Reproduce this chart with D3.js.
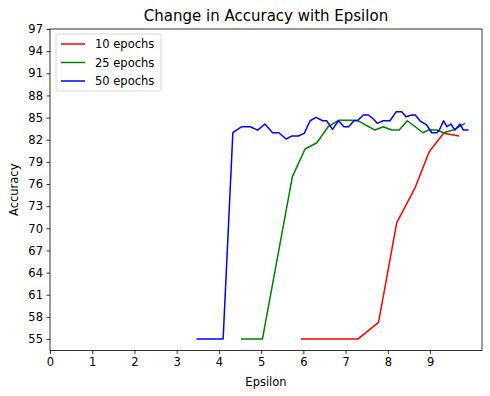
<!DOCTYPE html>
<html><head><meta charset="utf-8">
<script src="https://cdn.jsdelivr.net/npm/d3@7"></script>
<style>body{margin:0;background:#fff}svg{display:block}text{font-family:"DejaVu Sans",sans-serif;fill:#000}</style>
</head><body><div id="c"></div>
<script>
const seriesNames = ["10 epochs", "25 epochs", "50 epochs"];
const seriesColors = ["#ff0000", "#008000", "#0000ff"];
const eps10 = [5.94, 7.29, 7.78, 8.21, 8.65, 8.98, 9.32, 9.69];
const acc10 = [55.0, 55.0, 57.26, 70.75, 75.55, 80.37, 82.87, 82.5];
const eps25 = [4.52, 5.03, 5.74, 6.04, 6.32, 6.59, 6.83, 7.28, 7.47, 7.70, 7.89, 8.09, 8.27, 8.46, 8.65, 8.83, 8.96, 9.16, 9.32, 9.55, 9.83];
const acc25 = [55.0, 55.0, 77.0, 80.74, 81.59, 83.79, 84.63, 84.63, 84.0, 83.31, 83.76, 83.31, 83.31, 84.57, 83.76, 82.95, 83.31, 83.31, 82.95, 83.31, 84.22];
const eps50 = [3.47, 4.10, 4.33, 4.54, 4.74, 4.92, 5.09, 5.27, 5.42, 5.59, 5.72, 5.88, 6.02, 6.16, 6.30, 6.46, 6.55, 6.69, 6.83, 6.96, 7.07, 7.20, 7.28, 7.42, 7.54, 7.64, 7.75, 7.89, 8.05, 8.20, 8.33, 8.43, 8.57, 8.65, 8.76, 8.92, 9.04, 9.16, 9.22, 9.32, 9.40, 9.49, 9.59, 9.71, 9.79, 9.91];
const acc50 = [55.0, 55.0, 82.95, 83.76, 83.76, 83.31, 84.13, 82.95, 82.95, 82.1, 82.5, 82.5, 82.87, 84.57, 85.04, 84.57, 84.57, 83.41, 84.57, 83.76, 83.76, 84.57, 84.57, 85.35, 85.35, 84.9, 84.22, 84.57, 84.57, 85.8, 85.8, 85.12, 85.35, 85.35, 84.57, 84.0, 82.95, 82.95, 83.31, 84.57, 83.76, 84.13, 83.31, 84.13, 83.31, 83.31];
const xTicks = [0, 1, 2, 3, 4, 5, 6, 7, 8, 9];
const yTicks = [55, 58, 61, 64, 67, 70, 73, 76, 79, 82, 85, 88, 91, 94, 97];
const titleText = "Change in Accuracy with Epsilon";
const xLabel = "Epsilon", yLabel = "Accuracy";

const W = 490, H = 396;
const L = 50, R = 482, T = 29, B = 350.5;
const FS = 11.5;
const svg = d3.select("#c").append("svg").attr("width", W).attr("height", H);
const x = d3.scaleLinear().domain([0, 10.23]).range([L, R]);
const y = d3.scaleLinear().domain([53.45, 97]).range([B, T]);

const series = [[eps10, acc10], [eps25, acc25], [eps50, acc50]];
const line = d3.line().x(d => x(d[0])).y(d => y(d[1]));
series.forEach((s, i) => {
  const pts = s[0].map((e, j) => [e, s[1][j]]);
  svg.append("path").attr("d", line(pts)).attr("fill", "none")
    .attr("stroke", seriesColors[i]).attr("stroke-width", 1.5).attr("stroke-linejoin", "round");
});

const xa = svg.append("g").attr("transform", `translate(0,${B})`)
  .call(d3.axisBottom(x).tickValues(xTicks).tickFormat(d3.format("d")).tickSizeOuter(0).tickSize(3.5).tickPadding(3.5));
const ya = svg.append("g").attr("transform", `translate(${L},0)`)
  .call(d3.axisLeft(y).tickValues(yTicks).tickFormat(d3.format("d")).tickSizeOuter(0).tickSize(3.5).tickPadding(3.5));
[xa, ya].forEach(a => {
  a.select(".domain").remove();
  a.selectAll("line").attr("stroke", "#000").attr("stroke-width", 0.8);
  a.selectAll("text").attr("font-size", FS).attr("font-family", "DejaVu Sans").attr("fill", "#000");
});
svg.append("rect").attr("x", L).attr("y", T).attr("width", R - L).attr("height", B - T)
  .attr("fill", "none").attr("stroke", "#000").attr("stroke-width", 0.8);

svg.append("text").attr("x", (L + R) / 2).attr("y", 20.5).attr("text-anchor", "middle")
  .attr("font-size", 15).text(titleText);
svg.append("text").attr("x", (L + R) / 2).attr("y", 386).attr("text-anchor", "middle")
  .attr("font-size", FS).text(xLabel);
svg.append("text").attr("transform", `translate(18,${(T + B) / 2}) rotate(-90)`).attr("text-anchor", "middle")
  .attr("font-size", FS).text(yLabel);

const lg = svg.append("g").attr("transform", "translate(56,34)");
lg.append("rect").attr("width", 105).attr("height", 57).attr("rx", 2).attr("fill", "#fff")
  .attr("fill-opacity", 0.8).attr("stroke", "#ccc").attr("stroke-width", 0.8);
seriesNames.forEach((n, i) => {
  const yy = 10 + i * 18.5;
  lg.append("line").attr("x1", 5).attr("x2", 29).attr("y1", yy).attr("y2", yy)
    .attr("stroke", seriesColors[i]).attr("stroke-width", 1.5);
  lg.append("text").attr("x", 39).attr("y", yy + 4).attr("font-size", FS).text(n);
});
</script></body></html>
